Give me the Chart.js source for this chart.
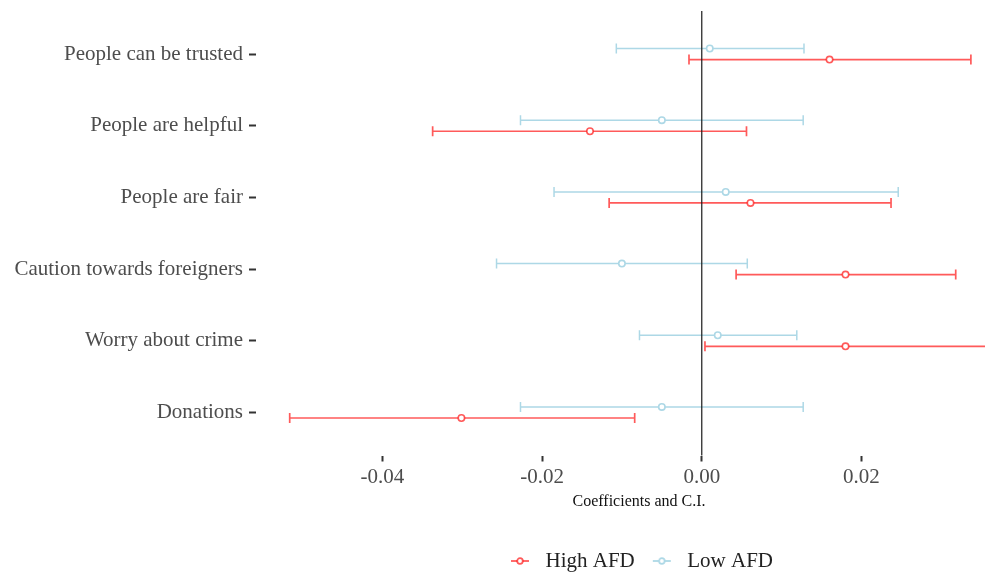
<!DOCTYPE html>
<html><head><meta charset="utf-8">
<script src="https://cdn.jsdelivr.net/npm/chart.js@4"></script>
<style>
html,body{margin:0;padding:0;background:#fff;overflow:hidden;}
#wrap{width:985px;height:576px;overflow:hidden;position:relative;}
canvas{display:block;}
</style></head><body>
<div id="wrap"><canvas id="c" width="1030" height="576"></canvas></div>
<script>
// ---- data ----
const categories = ["People can be trusted","People are helpful","People are fair","Caution towards foreigners","Worry about crime","Donations"];
const seriesNames = ["High AFD","Low AFD"];
const highEst  = [0.0160, -0.0140, 0.0061, 0.0180, 0.0180, -0.0301];
const highLow  = [-0.0016, -0.0337, -0.0116, 0.0043, 0.0004, -0.0516];
const highHigh = [0.0337, 0.0056, 0.0237, 0.0318, 0.0357, -0.0084];
const lowEst   = [0.0010, -0.0050, 0.0030, -0.0100, 0.0020, -0.0050];
const lowLow   = [-0.0107, -0.0227, -0.0185, -0.0257, -0.0078, -0.0227];
const lowHigh  = [0.0128, 0.0127, 0.0246, 0.0057, 0.0119, 0.0127];
const xTickValues = [-0.04, -0.02, 0.00, 0.02];
const refValue = 0;

// ---- styling ----
const RED = 'rgba(255,20,20,0.7)';
const BLUE = '#add8e6';
const DODGE = 0.077;
const CAP = 5;
const FONT = "'Liberation Serif', 'Times New Roman', serif";

function keyCanvas(color) {
  const c = document.createElement('canvas');
  c.width = 30; c.height = 10;
  const g = c.getContext('2d');
  g.strokeStyle = color; g.lineWidth = 1.8;
  g.beginPath(); g.moveTo(6, 5); g.lineTo(24, 5); g.stroke();
  g.fillStyle = '#fff';
  g.beginPath(); g.arc(15, 5, 2.8, 0, Math.PI * 2); g.fill(); g.stroke();
  return c;
}

const datasets = [
  { label: seriesNames[0], lo: highLow, hi: highHigh, errWidth: 1.7,
    data: highEst.map((v, i) => ({ x: v, y: i + 1 + DODGE })),
    borderColor: RED, backgroundColor: '#ffffff', pointRadius: 3.2, pointBorderWidth: 1.6,
    key: keyCanvas(RED) },
  { label: seriesNames[1], lo: lowLow, hi: lowHigh, errWidth: 1.5,
    data: lowEst.map((v, i) => ({ x: v, y: i + 1 - DODGE })),
    borderColor: BLUE, backgroundColor: '#ffffff', pointRadius: 3.2, pointBorderWidth: 1.6,
    key: keyCanvas(BLUE) }
];

const errorBars = {
  id: 'errorBars',
  beforeDatasetsDraw(chart) {
    const { ctx, chartArea: a, scales: { x, y } } = chart;
    ctx.save();
    ctx.beginPath(); ctx.rect(a.left, a.top, a.right - a.left, a.bottom - a.top); ctx.clip();
    chart.data.datasets.forEach(ds => {
      ctx.strokeStyle = ds.borderColor; ctx.lineWidth = ds.errWidth;
      ds.data.forEach((p, i) => {
        const yp = y.getPixelForValue(p.y);
        const xl = x.getPixelForValue(ds.lo[i]);
        const xh = x.getPixelForValue(ds.hi[i]);
        ctx.beginPath();
        ctx.moveTo(xl, yp); ctx.lineTo(xh, yp);
        ctx.moveTo(xl, yp - CAP); ctx.lineTo(xl, yp + CAP);
        ctx.moveTo(xh, yp - CAP); ctx.lineTo(xh, yp + CAP);
        ctx.stroke();
      });
    });
    ctx.restore();
  },
  afterDatasetsDraw(chart) {
    const { ctx, chartArea: a, scales: { x } } = chart;
    const x0 = x.getPixelForValue(refValue);
    ctx.save();
    ctx.strokeStyle = '#1a1a1a'; ctx.lineWidth = 1.2;
    ctx.beginPath(); ctx.moveTo(x0, a.top); ctx.lineTo(x0, a.bottom); ctx.stroke();
    ctx.restore();
  }
};

new Chart(document.getElementById('c'), {
  type: 'scatter',
  data: { datasets },
  options: {
    responsive: false,
    animation: false,
    layout: { padding: { top: 11, right: 8, bottom: -5.5, left: 0 } },
    scales: {
      x: {
        type: 'linear', min: -0.05582, max: 0.0401,
        afterBuildTicks: s => { s.ticks = xTickValues.map(v => ({ value: v })); },
        afterFit: s => { s.height = 83; },
        grid: { drawOnChartArea: false, drawTicks: true, tickLength: 6, tickColor: '#333333', tickWidth: 2 },
        border: { display: false },
        ticks: { padding: 3, color: '#4d4d4d', font: { family: FONT, size: 21 },
                 callback: v => v.toFixed(2), maxRotation: 0 },
        title: { display: true, text: 'Coefficients and C.I.', color: '#111',
                 font: { family: FONT, size: 16 }, padding: { top: 0, bottom: 27 } }
      },
      y: {
        type: 'linear', min: 0.4, max: 6.6, reverse: true,
        afterBuildTicks: s => { s.ticks = categories.map((c, i) => ({ value: i + 1 })); },
        afterFit: s => { s.width = 256; },
        grid: { drawOnChartArea: false, drawTicks: true, tickLength: 7, tickColor: '#333333', tickWidth: 2 },
        border: { display: false },
        ticks: { padding: 6, color: '#4d4d4d', font: { family: FONT, size: 21, lineHeight: 0.4 },
                 callback: v => categories[Math.round(v) - 1] }
      }
    },
    plugins: {
      legend: {
        display: true, position: 'bottom', fullSize: false,
        labels: {
          usePointStyle: true, pointStyleWidth: 30, padding: 12,
          color: '#222', font: { family: FONT, size: 21 },
          generateLabels: chart => chart.data.datasets.map((ds, i) => ({
            text: ds.label, pointStyle: ds.key, fillStyle: ds.borderColor,
            strokeStyle: ds.borderColor, lineWidth: 0, hidden: false, datasetIndex: i, fontColor: '#222'
          }))
        }
      },
      tooltip: { enabled: false }
    }
  },
  plugins: [errorBars]
});
</script>
</body></html>
